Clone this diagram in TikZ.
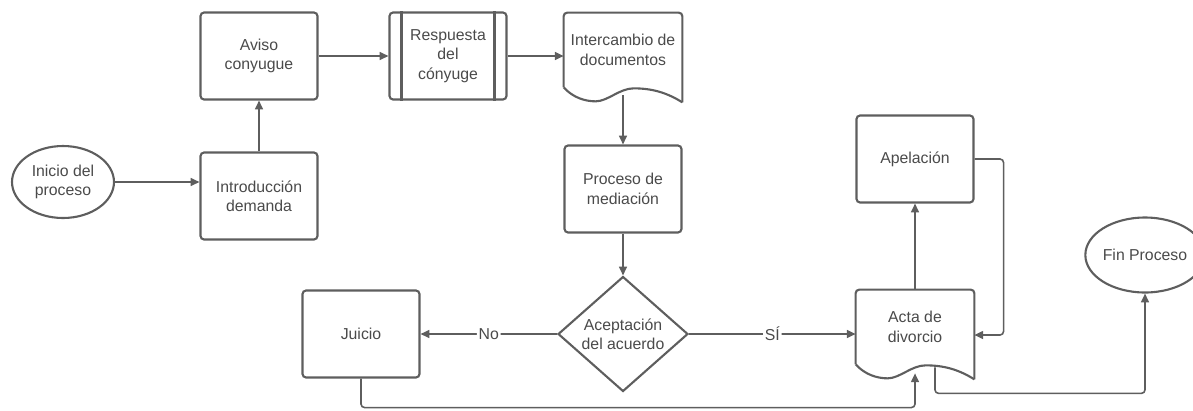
\documentclass[tikz,border=0pt]{standalone}
\usepackage{fontspec}
\setmainfont{Liberation Sans}
\usetikzlibrary{shapes.geometric, arrows.meta}
\definecolor{linegray}{HTML}{5E5E5E}
\definecolor{textgray}{HTML}{4A4A4A}

% document shape: node is the upper part, wave hangs under its south side
\newcommand{\docwave}[1]{%
    \draw[shape line, rounded corners=2pt] (#1.south west) -- (#1.north west) -- (#1.north east) -- ([yshift=-0.3cm]#1.south east);
    \draw[shape line] (#1.south west) .. controls +(9,10) and +(-11,0) .. ([xshift=0.64cm,yshift=-0.28cm]#1.south west)
        .. controls +(12,0) and +(-14,0) .. ([xshift=1.4cm,yshift=-0.02cm]#1.south west)
        .. controls +(18,0) and +(-16,-10) .. ([yshift=-0.3cm]#1.south east);
}

\begin{document}
\begin{tikzpicture}[x=0.02cm, y=-0.02cm, font=\fontsize{9}{11}\selectfont,
    shape line/.style={draw=linegray, line width=1.2pt},
    box/.style={shape line, rounded corners=2pt, minimum width=2.34cm, minimum height=1.74cm, align=center, text=textgray},
    doc/.style={minimum width=2.36cm, minimum height=1.48cm, align=center, text=textgray},
    term/.style={shape line, ellipse, minimum width=2.04cm, minimum height=1.44cm, inner sep=0pt, align=center, text=textgray},
    decision/.style={shape line, diamond, minimum width=2.6cm, minimum height=2.3cm, inner sep=0pt, align=center, text=textgray},
    arr/.style={draw=linegray, line width=0.9pt, rounded corners=2pt, -{Triangle[length=5pt,width=4.5pt]}},
    lbl/.style={fill=white, inner sep=1pt, text=textgray}]
    \useasboundingbox (0,0) rectangle (1193,410);

    \node[term] (inicio) at (63,182) {Inicio del\\proceso};
    \node[box] (intro) at (259,196) {Introducción\\demanda};
    \node[box] (aviso) at (259,56) {Aviso\\conyugue};
    \node[box] (resp) at (448,56) {Respuesta\\del\\cónyuge};
    \draw[shape line] ([xshift=0.26cm]resp.north west) -- ([xshift=0.26cm]resp.south west);
    \draw[shape line] ([xshift=-0.26cm]resp.north east) -- ([xshift=-0.26cm]resp.south east);
    \node[doc] (inter) at (623,50) {Intercambio de\\documentos};
    \docwave{inter}
    \node[box] (proc) at (623,189) {Proceso de\\mediación};
    \node[decision] (acuerdo) at (623,334) {Aceptación\\del acuerdo};
    \node[box] (juicio) at (361,334) {Juicio};
    \node[doc] (acta) at (915,327) {Acta de\\divorcio};
    \docwave{acta}
    \node[box] (apel) at (915,159) {Apelación};
    \node[term, minimum width=1.88cm, minimum height=1.5cm] (fin) at (1145,255) {Fin Proceso};

    \draw[arr] (inicio.east) -- (inicio.east -| intro.west);
    \draw[arr] (intro.north) -- (aviso.south);
    \draw[arr] (aviso.east) -- (resp.west);
    \draw[arr] (resp.east) -- (resp.east -| inter.west);
    \draw[arr] ([yshift=-0.16cm]inter.south) -- (proc.north);
    \draw[arr] (proc.south) -- (acuerdo.north);
    \draw[arr] (acuerdo.west) -- node[lbl] {No} (juicio.east);
    \draw[arr] (acuerdo.east) -- node[lbl] {SÍ} (acuerdo.east -| acta.west);
    \draw[arr] (juicio.south) -- ++(0,29) -| ([yshift=-0.18cm]acta.south);
    \draw[arr] (acta.north) -- (apel.south);
    \draw[arr] (apel.east) -- ++(29,0) |- ([yshift=-0.16cm]acta.east);
    \draw[arr] ([xshift=0.4cm,yshift=-0.06cm]acta.south) -- ++(0,26) -| (fin.south);
\end{tikzpicture}
\end{document}
